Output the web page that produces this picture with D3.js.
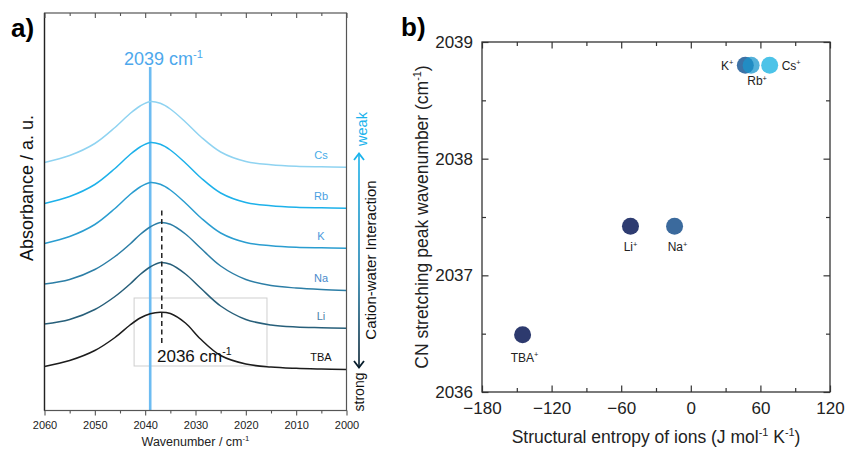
<!DOCTYPE html>
<html><head><meta charset="utf-8">
<script src="https://cdn.jsdelivr.net/npm/d3@7"></script>
<style>
body{margin:0;background:#fff;}
svg{display:block;font-family:Arial,"Liberation Sans",Helvetica,sans-serif;}
</style>
</head><body>
<svg id="c" width="847" height="450"></svg>
<script>
// ---------- Panel a data ----------
const wavenumbers = [2060, 2055, 2050, 2046, 2043, 2041, 2039, 2037, 2035, 2032, 2029, 2025, 2020, 2015, 2010, 2005, 2000];
const cations = ["Cs", "Rb", "K", "Na", "Li", "TBA"];
const absCs  = [2.480, 2.550, 2.670, 2.830, 2.970, 3.045, 3.090, 3.072, 3.015, 2.885, 2.740, 2.585, 2.490, 2.458, 2.443, 2.437, 2.433];
const absRb  = [2.070, 2.140, 2.260, 2.420, 2.560, 2.635, 2.680, 2.662, 2.605, 2.475, 2.330, 2.175, 2.080, 2.048, 2.033, 2.027, 2.023];
const absK   = [1.670, 1.740, 1.860, 2.020, 2.160, 2.235, 2.280, 2.262, 2.205, 2.075, 1.930, 1.775, 1.680, 1.648, 1.633, 1.627, 1.623];
const absNa  = [1.265, 1.310, 1.410, 1.540, 1.665, 1.760, 1.835, 1.880, 1.862, 1.765, 1.625, 1.445, 1.310, 1.250, 1.225, 1.210, 1.200];
const absLi  = [0.865, 0.910, 1.010, 1.140, 1.265, 1.360, 1.435, 1.480, 1.462, 1.365, 1.225, 1.045, 0.910, 0.855, 0.835, 0.828, 0.823];
const absTBA = [0.440, 0.500, 0.600, 0.730, 0.855, 0.925, 0.968, 0.983, 0.970, 0.875, 0.715, 0.550, 0.465, 0.435, 0.422, 0.415, 0.410];
const spectra = [absCs, absRb, absK, absNa, absLi, absTBA];
const xTicksA = [2060, 2050, 2040, 2030, 2020, 2010, 2000];
const xMinorA = [2055, 2045, 2035, 2025, 2015, 2005];
const peakWeak = 2039;      // cm-1
const peakStrong = 2036.7;  // dashed marker
// ---------- Panel b data ----------
const ions = ["TBA", "Li", "Na", "K", "Rb", "Cs"];
const structuralEntropy = [-145, -52, -14, 47, 52, 68];
const peakWavenumber = [2036.49, 2037.42, 2037.42, 2038.80, 2038.80, 2038.80];
const xTicksB = [-180, -120, -60, 0, 60, 120];
const xMinorB = [-150, -90, -30, 30, 90];
const yTicksB = [2036, 2037, 2038, 2039];
const yMinorB = [2036.5, 2037.5, 2038.5];

// ---------- styles ----------
const curveColors = {Cs:"#8fd3f1", Rb:"#1db1ea", K:"#2a9dd0", Na:"#2c7ea6", Li:"#275f7a", TBA:"#1c1c1c"};
const labelColors = {Cs:"#47ace8", Rb:"#4a9fe2", K:"#4b99dc", Na:"#4a8acb", Li:"#4b7ea8", TBA:"#111"};
const dotColors = {TBA:"#2d3a6e", Li:"#2e3c71", Na:"#3b6a9d", K:"#3d72a6", Rb:"#1a96cc", Cs:"#4cc3e8"};
const dotOpacity = {TBA:1, Li:1, Na:1, K:1, Rb:0.75, Cs:1};
const dotLabelPos = {TBA:[2,27,"middle"], Li:[0,25,"middle"], Na:[3,25,"middle"], K:[-12,4.5,"end"], Rb:[6,20,"middle"], Cs:[12,4.5,"start"]};

const svg = d3.select("#c");

function rich(g, x, y, parts, size, attrs) {
  const t = g.append("text").attr("x", x).attr("y", y).attr("font-size", size);
  Object.entries(attrs || {}).forEach(([k, v]) => t.attr(k, v));
  let shifted = false;
  parts.forEach(([s, sup]) => {
    const ts = t.append("tspan").text(s);
    if (sup) { ts.attr("font-size", size * 0.62).attr("dy", -size * 0.4); shifted = true; }
    else if (shifted) { ts.attr("dy", size * 0.4); shifted = false; }
  });
  return t;
}

// ================= Panel a =================
const A = {l: 44.5, r: 346.5, t: 13, b: 410.5};
const xA = d3.scaleLinear().domain([2060, 2000]).range([A.l, A.r]);
const yA = d3.scaleLinear().domain([0, 3.975]).range([A.b, A.t]);
const ga = svg.append("g");

// highlight box
ga.append("rect")
  .attr("x", xA(2042.2)).attr("y", yA(1.125))
  .attr("width", xA(2015.8) - xA(2042.2)).attr("height", yA(0.445) - yA(1.125))
  .attr("fill", "none").attr("stroke", "#cfcfcf").attr("stroke-width", 1);

// 2039 line
ga.append("line").attr("x1", xA(peakWeak)).attr("x2", xA(peakWeak))
  .attr("y1", yA(3.435)).attr("y2", A.b)
  .attr("stroke", "#6dbcf2").attr("stroke-width", 2.6);

// spectra
const line = d3.line().x((d, i) => xA(wavenumbers[i])).y(d => yA(d)).curve(d3.curveCatmullRom.alpha(0.5));
cations.forEach((c, k) => {
  ga.append("path").datum(spectra[k]).attr("d", line)
    .attr("fill", "none").attr("stroke", curveColors[c]).attr("stroke-width", 1.5);
  const last = spectra[k][spectra[k].length - 1];
  ga.append("text").attr("x", 321).attr("y", yA(last) - 8.5)
    .attr("text-anchor", "middle").attr("font-size", 11)
    .attr("fill", labelColors[c]).text(c);
});

// dashed 2036 line
ga.append("line").attr("x1", xA(peakStrong)).attr("x2", xA(peakStrong))
  .attr("y1", yA(2.0)).attr("y2", yA(0.67))
  .attr("stroke", "#222").attr("stroke-width", 1.5).attr("stroke-dasharray", "5,3.5");

rich(ga, 124, 65, [["2039 cm"], ["-1", true]], 18, {fill: "#4da8ec"});
rich(ga, 157, 362, [["2036 cm"], ["-1", true]], 17, {fill: "#111"});

// frame
ga.append("rect").attr("x", A.l).attr("y", A.t).attr("width", A.r - A.l).attr("height", A.b - A.t)
  .attr("fill", "none").attr("stroke", "#555").attr("stroke-width", 1.2);
ga.append("line").attr("x1", A.l).attr("x2", A.l).attr("y1", A.t).attr("y2", A.b)
  .attr("stroke", "#222").attr("stroke-width", 1.3);

// axes
const axA = ga.append("g").attr("transform", `translate(0,${A.b})`)
  .call(d3.axisBottom(xA).tickValues(xTicksA).tickSize(5).tickPadding(6).tickFormat(d3.format("d")));
const axAm = ga.append("g").attr("transform", `translate(0,${A.b})`)
  .call(d3.axisBottom(xA).tickValues(xMinorA).tickSize(3).tickFormat(""));
const axAt = ga.append("g").attr("transform", `translate(0,${A.t})`)
  .call(d3.axisBottom(xA).tickValues(xTicksA).tickSize(5).tickFormat(""));
const axAtm = ga.append("g").attr("transform", `translate(0,${A.t})`)
  .call(d3.axisBottom(xA).tickValues(xMinorA).tickSize(3).tickFormat(""));
[axA, axAm, axAt, axAtm].forEach(g => {
  g.select(".domain").remove();
  g.selectAll(".tick line").attr("stroke", "#555").attr("stroke-width", 1.1);
  g.selectAll("text").attr("font-size", 11).attr("fill", "#222").attr("font-family", null);
});
rich(ga, (A.l + A.r) / 2, 446, [["Wavenumber / cm"], ["-1", true]], 12.5, {"text-anchor": "middle", fill: "#222"});
ga.append("text").attr("transform", `translate(33,188) rotate(-90)`)
  .attr("text-anchor", "middle").attr("font-size", 18).attr("fill", "#111").text("Absorbance / a. u.");
ga.append("text").attr("x", 11).attr("y", 37).attr("font-size", 26).attr("font-weight", "bold").text("a)");

// interaction arrow
const defs = svg.append("defs");
const grad = defs.append("linearGradient").attr("id", "ag").attr("gradientUnits", "userSpaceOnUse")
  .attr("x1", 0).attr("y1", 153).attr("x2", 0).attr("y2", 368);
grad.append("stop").attr("offset", "0%").attr("stop-color", "#1ab3ec");
grad.append("stop").attr("offset", "55%").attr("stop-color", "#1a7fae");
grad.append("stop").attr("offset", "100%").attr("stop-color", "#071d2c");
ga.append("line").attr("x1", 359).attr("x2", 359).attr("y1", 153.5).attr("y2", 367.5)
  .attr("stroke", "url(#ag)").attr("stroke-width", 1.6);
ga.append("polyline").attr("points", "354,160 359,153.5 364,160")
  .attr("fill", "none").attr("stroke", "#1ab3ec").attr("stroke-width", 1.8);
ga.append("polyline").attr("points", "354,361 359,367.5 364,361")
  .attr("fill", "none").attr("stroke", "#071d2c").attr("stroke-width", 1.8);
ga.append("text").attr("transform", "translate(367,129) rotate(-90)").attr("text-anchor", "middle")
  .attr("font-size", 14.5).attr("fill", "#1ab3ec").text("weak");
ga.append("text").attr("transform", "translate(364,392) rotate(-90)").attr("text-anchor", "middle")
  .attr("font-size", 14).attr("fill", "#111").text("strong");
ga.append("text").attr("transform", "translate(376,260) rotate(-90)").attr("text-anchor", "middle")
  .attr("font-size", 15).attr("fill", "#111").text("Cation-water Interaction");

// ================= Panel b =================
const B = {l: 482, r: 830, t: 42, b: 392};
const xB = d3.scaleLinear().domain([-180, 120]).range([B.l, B.r]);
const yB = d3.scaleLinear().domain([2036, 2039]).range([B.b, B.t]);
const gb = svg.append("g");

gb.append("rect").attr("x", B.l).attr("y", B.t).attr("width", B.r - B.l).attr("height", B.b - B.t)
  .attr("fill", "none").attr("stroke", "#333").attr("stroke-width", 1.3);

const axes = [];
axes.push(gb.append("g").attr("transform", `translate(0,${B.b})`)
  .call(d3.axisBottom(xB).tickValues(xTicksB).tickSize(-6.5).tickPadding(9.5).tickFormat(d3.format("d"))));
axes.push(gb.append("g").attr("transform", `translate(0,${B.b})`)
  .call(d3.axisBottom(xB).tickValues(xMinorB).tickSize(-4).tickFormat("")));
axes.push(gb.append("g").attr("transform", `translate(0,${B.t})`)
  .call(d3.axisTop(xB).tickValues(xTicksB).tickSize(-6.5).tickFormat("")));
axes.push(gb.append("g").attr("transform", `translate(0,${B.t})`)
  .call(d3.axisTop(xB).tickValues(xMinorB).tickSize(-4).tickFormat("")));
axes.push(gb.append("g").attr("transform", `translate(${B.l},0)`)
  .call(d3.axisLeft(yB).tickValues(yTicksB).tickSize(-6.5).tickPadding(9).tickFormat(d3.format("d"))));
axes.push(gb.append("g").attr("transform", `translate(${B.l},0)`)
  .call(d3.axisLeft(yB).tickValues(yMinorB).tickSize(-4).tickFormat("")));
axes.push(gb.append("g").attr("transform", `translate(${B.r},0)`)
  .call(d3.axisRight(yB).tickValues(yTicksB).tickSize(-6.5).tickFormat("")));
axes.push(gb.append("g").attr("transform", `translate(${B.r},0)`)
  .call(d3.axisRight(yB).tickValues(yMinorB).tickSize(-4).tickFormat("")));
axes.forEach(g => {
  g.select(".domain").remove();
  g.selectAll(".tick line").attr("stroke", "#333").attr("stroke-width", 1.2);
  g.selectAll("text").attr("font-size", 17).attr("fill", "#222").attr("font-family", null);
});

rich(gb, 656, 443, [["Structural entropy of ions (J mol"], ["-1", true], [" K"], ["-1", true], [")"]], 17.5,
  {"text-anchor": "middle", fill: "#222"});
const yt = rich(gb, 0, 0, [["CN stretching peak wavenumber (cm"], ["-1", true], [")"]], 17.5,
  {"text-anchor": "middle", fill: "#222"});
yt.attr("transform", "translate(428,217) rotate(-90)");
gb.append("text").attr("x", 401).attr("y", 36).attr("font-size", 26).attr("font-weight", "bold").text("b)");

ions.forEach((ion, i) => {
  const cx = xB(structuralEntropy[i]), cy = yB(peakWavenumber[i]);
  gb.append("circle").attr("cx", cx).attr("cy", cy).attr("r", 8.5)
    .attr("fill", dotColors[ion]).attr("fill-opacity", dotOpacity[ion]);
});
ions.forEach((ion, i) => {
  const cx = xB(structuralEntropy[i]), cy = yB(peakWavenumber[i]);
  const [dx, dy, anchor] = dotLabelPos[ion];
  rich(gb, cx + dx, cy + dy, [[ion], ["+", true]], 12, {"text-anchor": anchor, fill: "#222"});
});
</script>
</body></html>
